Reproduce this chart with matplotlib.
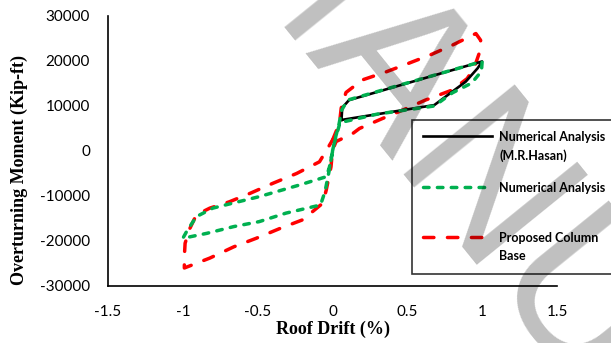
import matplotlib
matplotlib.use("Agg")
import matplotlib.pyplot as plt

# Hysteresis curves
hasan_x = [0.06, 0.065, 0.11, 1.0, 0.97, 0.89, 0.68, 0.06]
hasan_y = [6900, 9600, 11300, 19900, 18400, 15400, 10200, 6900]

num_x = [0.0, 0.02, 0.045, 0.06, 0.1, 1.0, 0.995, 0.93, 0.8, 0.68, 0.3, 0.05, 0.01, -0.02, -0.04,
         -0.22, -0.49, -0.68, -0.8, -0.91, -0.975, -1.0, -0.84, -0.66, -0.49, -0.31, -0.08, -0.05, -0.02, 0.0]
num_y = [0, 3000, 6200, 9000, 11300, 19900, 17700, 15100, 12900, 10000, 8200, 6300, 1500, -3500, -5700,
         -7550, -10150, -11700, -12700, -14600, -17900, -19400, -18300, -16800, -15700, -13800, -12000, -9000, -4000, 0]

prop_x = [0.0, 0.047, 0.058, 0.09, 0.2, 0.36, 0.51, 0.65, 0.8, 0.958, 0.99, 0.98, 0.947, 0.9, 0.8, 0.62, 0.47,
          0.336, 0.18, 0.136, 0.024, 0.0, -0.01, -0.042, -0.065, -0.2, -0.35, -0.51, -0.66, -0.82, -0.99,
          -0.99, -0.985, -0.953, -0.91, -0.82, -0.69, -0.55, -0.40, -0.24, -0.087, 0.0]
prop_y = [2400, 6200, 9500, 13000, 15800, 17600, 19500, 21300, 23500, 26100, 24600, 21700, 18500, 16100, 13550,
          11300, 9100, 7250, 5000, 3900, 2100, 200, -3500, -8700, -11600, -15300, -17200, -19400, -21300, -23800,
          -26000, -23500, -20500, -17200, -14200, -12700, -11300, -9400, -7200, -5000, -2400, 2400]

# trailing newline keeps the three legend rows the same height, as in Excel
labels = ["Numerical Analysis\n(M.R.Hasan)", "Numerical Analysis\n", "Proposed Column\nBase"]
xticks = [-1.5, -1, -0.5, 0, 0.5, 1, 1.5]
yticks = [-30000, -20000, -10000, 0, 10000, 20000, 30000]

fig = plt.figure(figsize=(6.11, 3.43), dpi=100)
ax = fig.add_axes([0.1768, 0.1662, 0.7348, 0.7872])

ax.plot(hasan_x, hasan_y, color="black", lw=1.9, label=labels[0], zorder=3)
ax.plot(num_x, num_y, color="#00B050", lw=2.5, dashes=(1.6, 2.4), dash_capstyle="round",
        label=labels[1], zorder=4)
ax.plot(prop_x, prop_y, color="#FF0000", lw=2.5, dashes=(3.0, 3.9), dash_capstyle="round",
        label=labels[2], zorder=2)

ax.set_xlim(-1.5, 1.5)
ax.set_ylim(-30000, 30000)
ax.set_xticks(xticks)
ax.set_xticklabels([f"{t:g}" for t in xticks])
ax.set_yticks(yticks)
ax.set_yticklabels([str(t) for t in yticks])
ax.tick_params(length=0, labelsize=11)
ax.tick_params(axis="x", pad=14)
ax.tick_params(axis="y", pad=13)
for lab in ax.get_xticklabels() + ax.get_yticklabels():
    lab.set_fontfamily("Lato")
ax.spines["top"].set_visible(False)
ax.spines["right"].set_visible(False)
ax.spines["left"].set_linewidth(1.2)
ax.spines["bottom"].set_linewidth(1.2)

ax.set_xlabel("Roof Drift (%)", family="Liberation Serif", weight="bold", fontsize=13, labelpad=1)
ax.set_ylabel("Overturning Moment (Kip-ft)", family="Liberation Serif", weight="bold", fontsize=13)
ax.yaxis.set_label_coords(-0.178, 0.431)

leg = ax.legend(loc="upper left", bbox_to_anchor=(0.674, 0.650, 0.4, 0.0), bbox_transform=fig.transFigure,
                mode="expand", borderaxespad=0, frameon=True, fancybox=False, edgecolor="black",
                handlelength=5.5, handletextpad=0.6, labelspacing=1.6, borderpad=0.9,
                prop={"family": "Lato", "weight": "bold", "size": 9})
leg.get_frame().set_linewidth(1.2)
for t in leg.get_texts():
    t.set_linespacing(1.6)
# Excel puts the sample line level with the first text line
for h in leg.legend_handles:
    h.set_ydata([y + 8 for y in h.get_ydata()])

# watermark
fig.text(0.31, 1.20, "MANUSCRIPT", family="Liberation Sans", fontsize=150, rotation=-51,
         rotation_mode="anchor", ha="left", va="baseline", color="black", alpha=0.25, zorder=10)

fig.savefig("out.png", dpi=100)
